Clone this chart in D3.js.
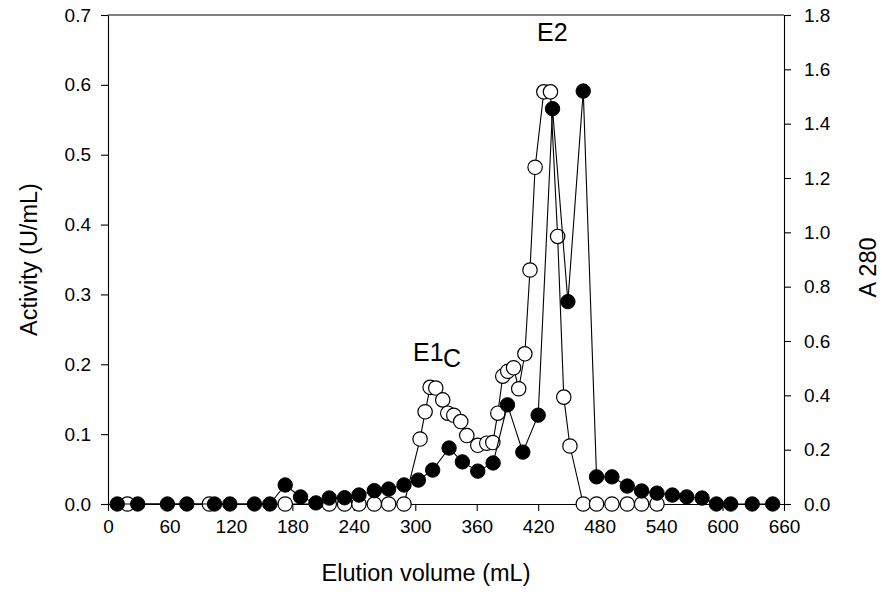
<!DOCTYPE html>
<html>
<head>
<meta charset="utf-8">
<script src="https://cdn.jsdelivr.net/npm/d3@7"></script>
<style>
  body { margin: 0; background: #fff; }
  svg { display: block; }
  text { font-family: "Liberation Sans", Arial, sans-serif; fill: #000; }
</style>
</head>
<body>
<svg id="chart" width="882" height="601"></svg>
<script>
// Axis ticks
const volumeTicks = [0, 60, 120, 180, 240, 300, 360, 420, 480, 540, 600, 660];
const activityTicks = [0, 0.1, 0.2, 0.3, 0.4, 0.5, 0.6, 0.7];
const a280Ticks = [0, 0.2, 0.4, 0.6, 0.8, 1.0, 1.2, 1.4, 1.6, 1.8];

// Enzyme activity (U/mL), open circles, left axis
const activityVolume = [19, 99, 173, 216, 231, 245, 260, 274, 289,
  304.7, 309.6, 314.5, 320, 326.8, 331.7, 337.6, 344.4, 350.3, 361, 369.8, 375.7,
  380.6, 385.4, 390.3, 396, 401, 407, 412, 417, 425.5, 432, 439, 445, 451,
  464, 477, 492, 507, 521, 536];
const activityValue = [0, 0, 0, 0, 0, 0, 0, 0, 0,
  0.093, 0.132, 0.167, 0.166, 0.149, 0.130, 0.127, 0.118, 0.098, 0.084, 0.087, 0.088,
  0.13, 0.183, 0.19, 0.195, 0.165, 0.215, 0.335, 0.482, 0.59, 0.59, 0.383, 0.153, 0.083,
  0, 0, 0, 0, 0, 0];

// Protein absorbance at 280 nm, filled circles, right axis
const a280Volume = [9, 29, 58, 77, 104, 119, 143, 158, 173, 188, 203, 216, 231, 245,
  260, 274, 289, 303, 317, 333, 346, 361, 376, 390, 405, 420, 434, 449, 464,
  477, 492, 507, 521, 536, 551, 565, 580, 594, 608, 629, 649];
const a280Value = [0, 0, 0, 0, 0, 0, 0, 0, 0.07, 0.026, 0.004, 0.022, 0.023, 0.033,
  0.049, 0.055, 0.07, 0.088, 0.125, 0.206, 0.155, 0.121, 0.151, 0.365, 0.191, 0.327, 1.455, 0.745, 1.52,
  0.1, 0.1, 0.066, 0.048, 0.04, 0.033, 0.026, 0.022, 0, 0, 0, 0];

const activity = activityVolume.map((v, i) => ({ v, y: activityValue[i] }));
const a280 = a280Volume.map((v, i) => ({ v, y: a280Value[i] }));

const plot = { left: 108, right: 784, top: 15, bottom: 504 };
const svg = d3.select("#chart");

const x = d3.scaleLinear().domain([0, 660]).range([plot.left, plot.right]);
const yAct = d3.scaleLinear().domain([0, 0.7]).range([plot.bottom, plot.top]);
const yA280 = d3.scaleLinear().domain([0, 1.8]).range([plot.bottom, plot.top]);

const tickFont = "19px";
const titleFont = "23.5px";

function styleAxis(g) {
  g.selectAll("path, line").attr("stroke", "#000").attr("stroke-width", 1.1);
  g.selectAll("text").style("font-size", tickFont).attr("fill", "#000");
}

svg.append("g")
  .attr("transform", `translate(0,${plot.bottom})`)
  .call(d3.axisBottom(x).tickValues(volumeTicks).tickSize(7).tickSizeOuter(0).tickPadding(9).tickFormat(d3.format("d")))
  .call(styleAxis);

svg.append("g")
  .attr("transform", `translate(${plot.left},0)`)
  .call(d3.axisLeft(yAct).tickValues(activityTicks).tickSize(7).tickSizeOuter(0).tickPadding(10).tickFormat(d3.format(".1f")))
  .call(styleAxis);

svg.append("g")
  .attr("transform", `translate(${plot.right},0)`)
  .call(d3.axisRight(yA280).tickValues(a280Ticks).tickSize(7).tickSizeOuter(0).tickPadding(13).tickFormat(d3.format(".1f")))
  .call(styleAxis);

// Top frame line
svg.append("line")
  .attr("x1", plot.left).attr("x2", plot.right)
  .attr("y1", plot.top).attr("y2", plot.top)
  .attr("stroke", "#000").attr("stroke-width", 1.1);

// Axis titles
svg.append("text")
  .attr("x", 426).attr("y", 581)
  .attr("text-anchor", "middle")
  .style("font-size", titleFont)
  .text("Elution volume (mL)");

svg.append("text")
  .attr("transform", `translate(37,${(plot.top + plot.bottom) / 2}) rotate(-90)`)
  .attr("text-anchor", "middle")
  .style("font-size", titleFont)
  .text("Activity (U/mL)");

svg.append("text")
  .attr("transform", `translate(876,${(plot.top + plot.bottom) / 2 + 8}) rotate(-90)`)
  .attr("text-anchor", "middle")
  .style("font-size", titleFont)
  .text("A 280");

const r = 7.2;

// Activity series (drawn first, beneath the absorbance series)
svg.append("path")
  .datum(activity)
  .attr("fill", "none").attr("stroke", "#000").attr("stroke-width", 1.1)
  .attr("d", d3.line().x(d => x(d.v)).y(d => yAct(d.y)));

svg.append("g").selectAll("circle")
  .data(activity).join("circle")
  .attr("cx", d => x(d.v)).attr("cy", d => yAct(d.y)).attr("r", r)
  .attr("fill", "#fff").attr("stroke", "#000").attr("stroke-width", 1.2);

// A280 series
svg.append("path")
  .datum(a280)
  .attr("fill", "none").attr("stroke", "#000").attr("stroke-width", 1.1)
  .attr("d", d3.line().x(d => x(d.v)).y(d => yA280(d.y)));

svg.append("g").selectAll("circle")
  .data(a280).join("circle")
  .attr("cx", d => x(d.v)).attr("cy", d => yA280(d.y)).attr("r", r)
  .attr("fill", "#000").attr("stroke", "#000").attr("stroke-width", 1);

// Peak labels
svg.append("text")
  .attr("x", 413).attr("y", 361)
  .style("font-size", "25px")
  .text("E1");
svg.append("text")
  .attr("x", 443).attr("y", 367)
  .style("font-size", "25px")
  .text("C");
svg.append("text")
  .attr("x", 537).attr("y", 41)
  .style("font-size", "25px")
  .text("E2");
</script>
</body>
</html>
